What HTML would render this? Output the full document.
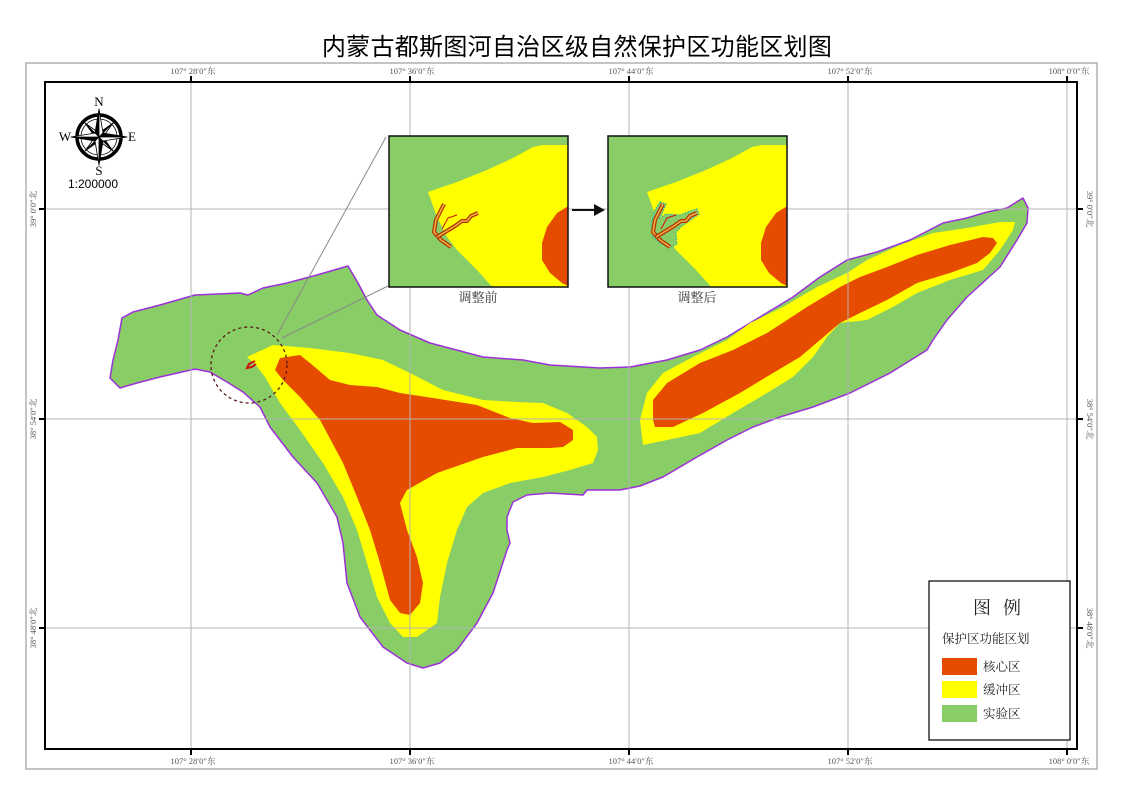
<!DOCTYPE html>
<html><head><meta charset="utf-8"><style>
html,body{margin:0;padding:0;background:#fff;}
svg{display:block;}
.tk{font-family:"Liberation Serif","Noto Serif CJK SC",serif;font-size:8.5px;fill:#555;}
</style></head><body>
<svg width="1122" height="793" viewBox="0 0 1122 793" xmlns="http://www.w3.org/2000/svg">
<rect width="1122" height="793" fill="#fff"/>
<text x="577" y="55" text-anchor="middle" font-family="'Liberation Sans','Noto Sans CJK SC',sans-serif" font-size="24" fill="#000" letter-spacing="0.3">内蒙古都斯图河自治区级自然保护区功能区划图</text>
<rect x="26" y="63" width="1071" height="706" fill="none" stroke="#888" stroke-width="1"/>

<!-- main map -->
<polygon fill="#89cd66" stroke="#9b30d9" stroke-width="1.5" stroke-linejoin="round" points="122,318 133,312 160,305 195,295 240,293 248,295 263,288 287,283 317,275 348,266 358,283 367,300 377,315 400,330 430,343 483,357 523,360 550,365 600,368 630,367 667,360 700,350 727,337 760,317 793,297 820,277 847,260 877,252 910,240 943,223 967,218 987,212 1007,208 1023,198 1028,208 1027,223 1017,240 1000,267 967,297 947,320 933,340 927,350 890,373 850,393 813,407 780,417 753,427 727,440 697,457 663,477 640,486 620,490 587,490 583,495 550,493 527,495 513,502 507,517 507,530 510,543 507,550 493,593 477,623 457,650 440,663 423,668 407,663 383,647 360,617 347,583 343,543 337,517 317,483 293,457 270,427 260,407 243,392 227,382 210,372 195,369 160,377 137,383 120,388 110,378 113,360 118,340"/>
<polygon fill="#ffff00" points="247,357 273,345 310,348 350,353 383,360 410,373 443,390 483,400 517,402 543,403 567,413 587,427 597,437 598,450 593,463 570,470 543,477 510,483 483,493 467,507 457,530 447,563 440,597 437,623 417,637 403,637 390,623 377,597 367,563 357,530 343,497 323,463 300,430 280,403 265,377 255,364"/>
<polygon fill="#e64c00" points="275,370 280,358 300,355 310,363 330,380 350,385 377,387 400,393 433,398 477,405 510,418 533,423 560,422 573,430 573,440 563,447 550,448 517,448 483,457 437,473 407,490 400,503 407,530 417,557 423,583 420,603 410,615 400,613 390,600 380,563 370,530 357,497 343,463 320,420 300,397 283,380"/>
<polygon fill="#ffff00" points="640,420 643,445 667,440 700,433 733,413 767,393 793,377 813,357 827,337 840,323 867,320 893,307 917,293 950,280 983,270 1000,250 1013,230 1015,222 1000,222 967,228 933,233 900,245 867,260 847,273 817,287 783,307 750,323 727,340 693,357 663,373 647,393"/>
<polygon fill="#e64c00" points="653,420 655,427 673,427 703,413 740,393 773,373 800,357 820,340 840,323 860,313 887,300 917,283 950,273 977,263 990,253 997,243 993,238 983,237 950,245 917,255 887,267 860,277 840,287 807,307 767,333 733,350 700,363 667,383 653,400"/>
<!-- small feature -->
<path d="M255,361 L249,364 L247,368 L252,367 L256,364" fill="none" stroke="#d01010" stroke-width="2"/>

<!-- grid -->
<g stroke="#b4b4b4" stroke-width="1">
<line x1="191" y1="82" x2="191" y2="749"/>
<line x1="410" y1="82" x2="410" y2="749"/>
<line x1="629" y1="82" x2="629" y2="749"/>
<line x1="848" y1="82" x2="848" y2="749"/>
<line x1="1067" y1="82" x2="1067" y2="749"/>
<line x1="45" y1="209" x2="1077" y2="209"/>
<line x1="45" y1="419" x2="1077" y2="419"/>
<line x1="45" y1="628" x2="1077" y2="628"/>
</g>

<!-- dashed circle & leader lines -->
<circle cx="249" cy="365" r="38" fill="none" stroke="#5a1a1a" stroke-width="1.3" stroke-dasharray="3,3"/>
<line x1="277" y1="335" x2="386" y2="137" stroke="#888" stroke-width="1"/>
<line x1="282" y1="338" x2="388" y2="286" stroke="#888" stroke-width="1"/>

<!-- inset 1 -->
<defs>
<clipPath id="c1"><rect x="389" y="136" width="179" height="151"/></clipPath>
<clipPath id="c2"><rect x="608" y="136" width="179" height="151"/></clipPath>
</defs>
<g clip-path="url(#c1)">
<rect x="389" y="136" width="179" height="151" fill="#89cd66"/>
<polygon fill="#ffff00" points="428,192 457,182 487,170 513,158 533,147 543,145 570,145 570,290 495,290 477,270 457,250 447,237 437,217"/>
<polygon fill="#e64c00" points="570,205 557,213 547,227 542,243 542,260 550,273 562,283 570,287"/>
<g fill="none" stroke-linejoin="round">
<polyline points="444,204 436,220 434,232 441,240 451,247" stroke="#b03000" stroke-width="4"/>
<polyline points="444,204 436,220 434,232 441,240 451,247" stroke="#f0b040" stroke-width="1.6"/>
<polyline points="437,237 455,226 462,221 467,221 471,216 478,213" stroke="#b03000" stroke-width="4"/>
<polyline points="437,237 455,226 462,221 467,221 471,216 478,213" stroke="#f0b040" stroke-width="1.6"/>
<polyline points="442,229 448,218 457,215" stroke="#d01010" stroke-width="1"/>
</g>
</g>
<rect x="389" y="136" width="179" height="151" fill="none" stroke="#111" stroke-width="1.5"/>

<!-- inset 2 -->
<g clip-path="url(#c2)">
<rect x="608" y="136" width="179" height="151" fill="#89cd66"/>
<polygon fill="#ffff00" points="647,192 676,182 706,170 732,158 752,147 762,145 789,145 789,290 714,290 696,270 676,250 666,237 656,217"/>
<polygon fill="#e64c00" points="789,205 776,213 766,227 761,243 761,260 769,273 781,283 789,287"/>
<polygon fill="#89cd66" stroke="#2ab0b0" stroke-width="1.2" stroke-dasharray="1.5,1.5" points="660,202 666,204 660,218 666,214 680,215 690,211 697,209 699,214 682,226 676,232 677,244 672,247 663,245 653,237 651,224 655,210"/>
<g fill="none" stroke-linejoin="round">
<polyline points="663,204 655,220 653,232 660,240 670,247" stroke="#b03000" stroke-width="4"/>
<polyline points="663,204 655,220 653,232 660,240 670,247" stroke="#f0b040" stroke-width="1.6"/>
<polyline points="656,237 674,226 681,221 686,221 690,216 697,213" stroke="#b03000" stroke-width="4"/>
<polyline points="656,237 674,226 681,221 686,221 690,216 697,213" stroke="#f0b040" stroke-width="1.6"/>
<polyline points="661,229 667,218 676,215" stroke="#d01010" stroke-width="1"/>
</g>
</g>
<rect x="608" y="136" width="179" height="151" fill="none" stroke="#111" stroke-width="1.5"/>
<line x1="572" y1="210" x2="595" y2="210" stroke="#111" stroke-width="2"/>
<polygon points="594,204 605,210 594,216" fill="#111"/>
<g font-family="'Liberation Serif','Noto Serif CJK SC',serif" font-size="13" fill="#333" text-anchor="middle">
<text x="478" y="302">调整前</text>
<text x="697" y="302">调整后</text>
</g>

<!-- inner frame -->
<rect x="45" y="82" width="1032" height="667" fill="none" stroke="#000" stroke-width="2"/>
<g stroke="#000" stroke-width="2">
<line x1="191" y1="76" x2="191" y2="82"/><line x1="410" y1="76" x2="410" y2="82"/><line x1="629" y1="76" x2="629" y2="82"/><line x1="848" y1="76" x2="848" y2="82"/><line x1="1067" y1="76" x2="1067" y2="82"/>
<line x1="191" y1="749" x2="191" y2="755"/><line x1="410" y1="749" x2="410" y2="755"/><line x1="629" y1="749" x2="629" y2="755"/><line x1="848" y1="749" x2="848" y2="755"/><line x1="1067" y1="749" x2="1067" y2="755"/>
<line x1="39" y1="209" x2="45" y2="209"/><line x1="39" y1="419" x2="45" y2="419"/><line x1="39" y1="628" x2="45" y2="628"/>
<line x1="1077" y1="209" x2="1083" y2="209"/><line x1="1077" y1="419" x2="1083" y2="419"/><line x1="1077" y1="628" x2="1083" y2="628"/>
</g>
<g class="tk" text-anchor="middle">
<text x="193" y="74">107°  28′0″东</text>
<text x="412" y="74">107°  36′0″东</text>
<text x="631" y="74">107°  44′0″东</text>
<text x="850" y="74">107°  52′0″东</text>
<text x="1069" y="74">108°  0′0″东</text>
<text x="193" y="764">107°  28′0″东</text>
<text x="412" y="764">107°  36′0″东</text>
<text x="631" y="764">107°  44′0″东</text>
<text x="850" y="764">107°  52′0″东</text>
<text x="1069" y="764">108°  0′0″东</text>
<text transform="translate(36,209) rotate(-90)">39°  0′0″北</text>
<text transform="translate(36,419) rotate(-90)">38°  54′0″北</text>
<text transform="translate(36,628) rotate(-90)">38°  48′0″北</text>
<text transform="translate(1087,209) rotate(90)">39°  0′0″北</text>
<text transform="translate(1087,419) rotate(90)">38°  54′0″北</text>
<text transform="translate(1087,628) rotate(90)">38°  48′0″北</text>
</g>

<!-- compass -->
<g stroke="#000" stroke-width="0.8" stroke-linejoin="round">
<circle cx="99" cy="137" r="22" fill="none" stroke-width="3.5"/>
<circle cx="99" cy="137" r="18" fill="none" stroke-width="0.8"/>
<polygon points="113,123 99,137 99,133" fill="#000"/><polygon points="113,123 99,137 103,137" fill="#fff"/>
<polygon points="113,151 99,137 103,137" fill="#000"/><polygon points="113,151 99,137 99,141" fill="#fff"/>
<polygon points="85,151 99,137 99,141" fill="#000"/><polygon points="85,151 99,137 95,137" fill="#fff"/>
<polygon points="85,123 99,137 95,137" fill="#000"/><polygon points="85,123 99,137 99,133" fill="#fff"/>
<polygon points="99,109 99,137 95,133" fill="#000"/><polygon points="99,109 99,137 103,133" fill="#fff"/>
<polygon points="99,165 99,137 103,141" fill="#000"/><polygon points="99,165 99,137 95,141" fill="#fff"/>
<polygon points="127,137 99,137 103,133" fill="#000"/><polygon points="127,137 99,137 103,141" fill="#fff"/>
<polygon points="71,137 99,137 95,141" fill="#000"/><polygon points="71,137 99,137 95,133" fill="#fff"/>
</g>
<g font-family="'Liberation Serif',serif" font-size="13" fill="#000" text-anchor="middle">
<text x="99" y="106">N</text>
<text x="99" y="175">S</text>
<text x="65" y="141">W</text>
<text x="132" y="141">E</text>
</g>
<text x="93" y="188" text-anchor="middle" font-family="'Liberation Sans',sans-serif" font-size="12" fill="#000">1:200000</text>

<!-- legend -->
<rect x="929" y="581" width="141" height="159" fill="#fff" stroke="#000" stroke-width="1.2"/>
<g font-family="'Liberation Serif','Noto Serif CJK SC',serif" fill="#222">
<text x="1003" y="614" text-anchor="middle" font-size="18" letter-spacing="12">图例</text>
<text x="942" y="643" font-size="12.5">保护区功能区划</text>
<text x="983" y="671" font-size="12.5">核心区</text>
<text x="983" y="694" font-size="12.5">缓冲区</text>
<text x="983" y="718" font-size="12.5">实验区</text>
</g>
<rect x="942" y="658" width="35" height="17" fill="#e64c00"/>
<rect x="942" y="681" width="35" height="17" fill="#ffff00"/>
<rect x="942" y="705" width="35" height="17" fill="#89cd66"/>
</svg>
</body></html>
